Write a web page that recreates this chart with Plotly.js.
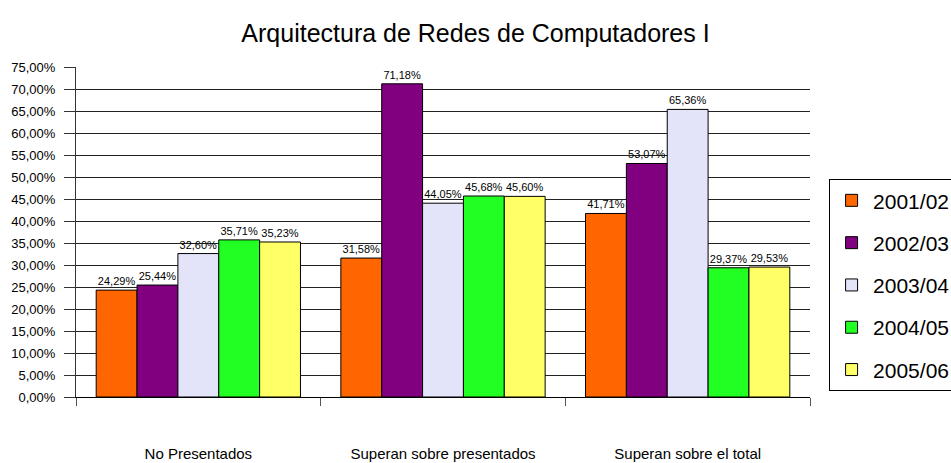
<!DOCTYPE html>
<html>
<head>
<meta charset="utf-8">
<script src="https://cdn.plot.ly/plotly-3.0.1.min.js"></script>
<style>html,body{margin:0;padding:0;background:#fff;}#chart{width:951px;height:463px;}</style>
</head>
<body>
<div id="chart"></div>
<script>
const categories = ["No Presentados", "Superan sobre presentados", "Superan sobre el total"];
const seriesNames = ["2001/02", "2002/03", "2003/04", "2004/05", "2005/06"];
const v2001 = [24.29, 31.58, 41.71];
const v2002 = [25.44, 71.18, 53.07];
const v2003 = [32.60, 44.05, 65.36];
const v2004 = [35.71, 45.68, 29.37];
const v2005 = [35.23, 45.60, 29.53];
const colors = ["#FF6600", "#800080", "#E3E3FA", "#22FF22", "#FFFF66"];

const allValues = [v2001, v2002, v2003, v2004, v2005];
const FONT = "'Liberation Sans', Arial, sans-serif";

const traces = allValues.map((vals, i) => ({
  type: "bar",
  name: seriesNames[i],
  x: categories,
  y: vals,
  legendgroup: "g" + i,
  marker: {color: colors[i], line: {color: "#000", width: 1}},
  texttemplate: "%{y:.2f}%",
  textposition: "outside",
  textfont: {family: FONT, size: 11, color: "#000"},
  cliponaxis: false,
  hoverinfo: "none"
}));

const layout = {
  width: 951, height: 463,
  paper_bgcolor: "#fff", plot_bgcolor: "#fff",
  separators: ",.",
  margin: {l: 76, r: 141, t: 67, b: 66, autoexpand: false},
  barmode: "group",
  bargap: 0.165,
  bargroupgap: 0,
  title: {text: "Arquitectura de Redes de Computadores I", x: 0.5, xref: "container", y: 0.929, yanchor: "middle",
          font: {family: FONT, size: 25, color: "#000"}},
  xaxis: {
    type: "category",
    tickson: "boundaries",
    ticks: "outside", ticklen: 8, tickcolor: "#555", tickwidth: 1,
    showline: true, linecolor: "#000", linewidth: 1,
    showgrid: false,
    ticklabelstandoff: 43,
    tickfont: {family: FONT, size: 15, color: "#000"}
  },
  yaxis: {
    range: [0, 75],
    dtick: 5,
    tickformat: ".2f", ticksuffix: "%",
    ticks: "outside", ticklen: 11, tickcolor: "#333", tickwidth: 1,
    showline: true, linecolor: "#333", linewidth: 1,
    showgrid: true, gridcolor: "#222", gridwidth: 1,
    zeroline: false,
    ticklabelstandoff: 6,
    tickfont: {family: FONT, size: 13, color: "#000"}
  },
  showlegend: true,
  legend: {
    x: 1.026, xanchor: "left", y: 0.66, yanchor: "top",
    bordercolor: "#000", borderwidth: 1, bgcolor: "#fff",
    font: {family: FONT, size: 21, color: "#000"},
    traceorder: "grouped", tracegroupgap: 12,
    itemwidth: 33
  }
};

Plotly.newPlot("chart", traces, layout, {displayModeBar: false, staticPlot: true});
</script>
</body>
</html>
